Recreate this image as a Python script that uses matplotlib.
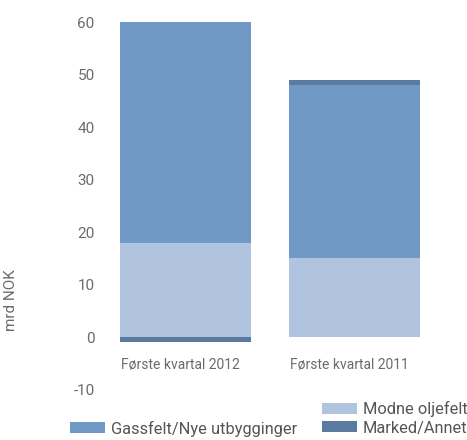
import matplotlib
matplotlib.use("Agg")
import matplotlib.pyplot as plt
from matplotlib.patches import Patch

categories = ["Første kvartal 2012", "Første kvartal 2011"]
modne = [18, 15]
gassfelt = [42, 33]
marked = [-1, 1]
yticks = [-10, 0, 10, 20, 30, 40, 50, 60]

c_gass = "#7099C5"
c_modne = "#B0C4DF"
c_marked = "#5A7BA0"
txt = "#6b6b6b"

plt.rcParams['font.family'] = ['Roboto', 'DejaVu Sans']

fig = plt.figure(figsize=(4.67, 4.4), dpi=100)
W, H = 467, 440
ax = fig.add_axes([100.7 / W, 1 - 389.5 / H, 338.4 / W, (389.5 - 22) / H])

x = list(range(len(categories)))
width = 0.774
ax.bar(x, modne, width, color=c_modne, label="Modne oljefelt")
ax.bar(x, gassfelt, width, bottom=modne, color=c_gass, label="Gassfelt/Nye utbygginger")
mbottom = [m + g if mk >= 0 else 0 for m, g, mk in zip(modne, gassfelt, marked)]
ax.bar(x, marked, width, bottom=mbottom, color=c_marked, label="Marked/Annet")

ax.set_xlim(-0.5, 1.5)
ax.set_ylim(-10, 60)
ax.set_yticks(yticks)
ax.set_yticklabels([str(v) for v in yticks])
ax.tick_params(axis='y', length=0, pad=4.3, labelsize=11, labelcolor=txt)
ax.get_yticklabels()[0].set_y(-8.9)

ax.spines['bottom'].set_position(('data', 0))
for s in ax.spines.values():
    s.set_visible(False)
ax.set_xticks([xi - 0.03 for xi in x])
ax.set_xticklabels(categories)
ax.tick_params(axis='x', length=0, pad=15, labelsize=10, labelcolor=txt)

ax.set_ylabel("mrd NOK", fontsize=11, color=txt)
ax.yaxis.set_label_coords(-0.244, 0.2435)

blank = Patch(facecolor='none', edgecolor='none')
handles = [blank,
           Patch(facecolor=c_gass),
           Patch(facecolor=c_modne),
           Patch(facecolor=c_marked)]
labels = ["", "Gassfelt/Nye utbygginger", "Modne oljefelt", "Marked/Annet"]
leg = fig.legend(handles, labels, ncol=2, loc='upper left',
                 bbox_to_anchor=(70 / W, 1 - 401 / H), frameon=False,
                 borderpad=0, borderaxespad=0, handlelength=2.13, handleheight=0.67,
                 handletextpad=0.37, columnspacing=1.5, labelspacing=0.22,
                 fontsize=11.8)
for t in leg.get_texts():
    t.set_color("#555555")

fig.savefig("out.png", dpi=100)
